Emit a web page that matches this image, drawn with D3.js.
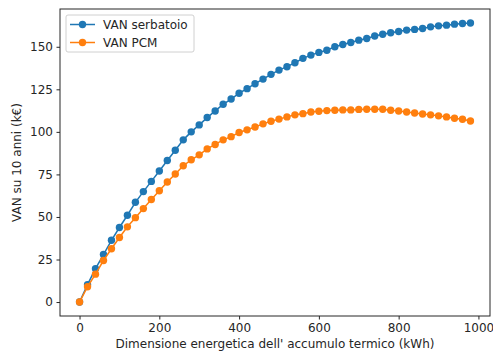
<!DOCTYPE html>
<meta charset="utf-8">
<style>
body { margin: 0; background: #fff; }
text { font-family: "DejaVu Sans", sans-serif; fill: #262626; }
.axis text { font-size: 12px; fill: #262626; }
.axis path, .axis line { stroke: #262626; }
</style>
<body>
<script src="https://d3js.org/d3.v7.min.js"></script>
<script>

// energy size of the storage (kWh)
var sizes = [0, 20, 40, 60, 80, 100, 120, 140, 160, 180,
             200, 220, 240, 260, 280, 300, 320, 340, 360, 380,
             400, 420, 440, 460, 480, 500, 520, 540, 560, 580,
             600, 620, 640, 660, 680, 700, 720, 740, 760, 780,
             800, 820, 840, 860, 880, 900, 920, 940, 960, 980];

var vanSerbatoio = [0, 10.2, 19.6, 27.9, 36.3, 43.8, 51.0, 58.6, 64.9, 70.9,
                    77.0, 83.2, 89.2, 95.3, 100.0, 104.1, 108.4, 112.3, 116.2, 119.3,
                    122.7, 125.4, 128.3, 131.0, 133.8, 136.3, 138.3, 140.6, 143.2, 145.1,
                    146.7, 148.0, 150.0, 151.3, 152.5, 153.9, 154.9, 156.3, 157.4, 158.2,
                    159.0, 159.8, 160.2, 160.7, 161.7, 162.3, 162.7, 163.3, 163.7, 164.0];

var vanPCM = [0, 9.0, 16.4, 24.4, 31.3, 37.9, 44.2, 49.6, 54.9, 60.3,
              65.4, 70.5, 75.2, 80.1, 83.6, 86.5, 90.0, 92.6, 95.3, 97.2,
              99.6, 101.2, 102.9, 104.7, 106.2, 107.5, 108.8, 110.0, 110.7, 111.7,
              112.1, 112.5, 112.7, 112.9, 112.9, 113.2, 113.3, 113.3, 113.3, 112.7,
              112.3, 111.7, 111.1, 110.5, 110.0, 109.4, 108.8, 108.0, 107.4, 106.4];

var xTicks = [0, 200, 400, 600, 800, 1000];
var yTicks = [0, 25, 50, 75, 100, 125, 150];

var series = [
    {name: "VAN serbatoio", values: vanSerbatoio, color: "#1f77b4"},
    {name: "VAN PCM", values: vanPCM, color: "#ff7f0e"}
];

var W = 493, H = 351;
var margin = {top: 9, right: 3, bottom: 35, left: 60};
var width = W - margin.left - margin.right,
    height = H - margin.top - margin.bottom;

var svg = d3.select("body").append("svg")
    .attr("width", W)
    .attr("height", H)
  .append("g")
    .attr("transform", "translate(" + margin.left + "," + margin.top + ")");

var x = d3.scaleLinear().domain([-49, 1029]).range([0, width]);
var y = d3.scaleLinear().domain([-8.2, 172.2]).range([height, 0]);

svg.append("g")
    .attr("class", "axis")
    .attr("transform", "translate(0," + height + ")")
    .call(d3.axisBottom(x).tickValues(xTicks).tickSize(3.5).tickPadding(3.5).tickFormat(d3.format("d")))
    .call(function(g) { g.select(".domain").remove(); g.attr("font-family", null).attr("font-size", null); });

svg.append("g")
    .attr("class", "axis")
    .call(d3.axisLeft(y).tickValues(yTicks).tickSize(3.5).tickPadding(3.5).tickFormat(d3.format("d")))
    .call(function(g) { g.select(".domain").remove(); g.attr("font-family", null).attr("font-size", null); });

// frame
svg.append("rect")
    .attr("x", 0).attr("y", 0)
    .attr("width", width).attr("height", height)
    .attr("fill", "none")
    .attr("stroke", "#262626")
    .attr("stroke-width", 1);

var line = d3.line()
    .x(function(d, i) { return x(sizes[i]); })
    .y(function(d) { return y(d); });

series.forEach(function(s) {
    svg.append("path")
        .datum(s.values)
        .attr("fill", "none")
        .attr("stroke", s.color)
        .attr("stroke-width", 1.5)
        .attr("d", line);
    svg.selectAll(null)
        .data(s.values)
        .enter()
        .append("circle")
            .attr("cx", function(d, i) { return x(sizes[i]); })
            .attr("cy", function(d) { return y(d); })
            .attr("r", 3.7)
            .attr("fill", s.color);
});

// legend
var legend = svg.append("g").attr("transform", "translate(6,6)");
legend.append("rect")
    .attr("width", 128).attr("height", 37)
    .attr("rx", 2)
    .attr("fill", "#fff").attr("fill-opacity", 0.8)
    .attr("stroke", "#d0d0d0");

series.forEach(function(s, i) {
    var yy = 9.5 + i * 18;
    legend.append("line")
        .attr("x1", 4).attr("x2", 29)
        .attr("y1", yy).attr("y2", yy)
        .attr("stroke", s.color).attr("stroke-width", 1.5);
    legend.append("circle")
        .attr("cx", 16.5).attr("cy", yy).attr("r", 3.7)
        .attr("fill", s.color);
    legend.append("text")
        .attr("x", 37).attr("y", yy)
        .attr("dy", "0.35em")
        .style("font-size", "12px")
        .text(s.name);
});

// axis labels
svg.append("text")
    .attr("x", width / 2)
    .attr("y", height + 32)
    .attr("text-anchor", "middle")
    .style("font-size", "12px")
    .text("Dimensione energetica dell' accumulo termico (kWh)");

svg.append("text")
    .attr("transform", "rotate(-90)")
    .attr("x", -(y(82)))
    .attr("y", -39)
    .attr("text-anchor", "middle")
    .style("font-size", "12px")
    .text("VAN su 10 anni (k€)");

</script>
</body>
